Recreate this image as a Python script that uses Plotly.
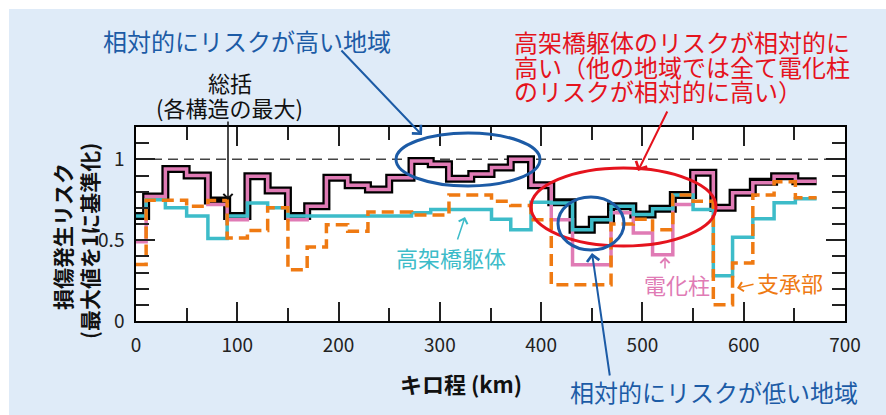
import plotly.graph_objects as go

# ---- data (km section edges and normalised risk per section) ----
edges_km = [0, 10, 29, 50, 71, 90, 110, 130, 150, 169, 188, 209, 229, 250, 272, 291, 309,
            331, 351, 370, 390, 410, 431, 450, 469, 491, 510, 530, 550, 570, 589, 609, 630, 651, 672]
viaduct = [0.65, 0.75, 0.70, 0.65, 0.51, 0.65, 0.73, 0.70, 0.65, 0.65,
           0.65, 0.65, 0.65, 0.65, 0.67, 0.69, 0.69, 0.69, 0.63, 0.565,
           0.735, 0.73, 0.565, 0.627, 0.71, 0.658, 0.694, 0.78, 0.69, 0.28,
           0.518, 0.632, 0.731, 0.756]
pole = [0.49, 0.77, 0.94, 0.90, 0.72, 0.627, 0.896, 0.807, 0.627, 0.71,
        0.886, 0.84, 0.814, 0.886, 0.99, 0.969, 0.88, 0.91, 0.95, 1.0,
        0.84, 0.627, 0.348, 0.348, 0.669, 0.545, 0.41, 0.72, 0.917, 0.70,
        0.793, 0.855, 0.896, 0.865]
bearing = [0.35, 0.747, 0.747, 0.71, 0.745, 0.514, 0.56, 0.70, 0.317, 0.458,
           0.596, 0.555, 0.675, 0.675, 0.655, 0.655, 0.78, 0.78, 0.74, 0.714,
           0.627, 0.224, 0.224, 0.224, 0.60, 0.63, 0.565, 0.78, 0.74, 0.10,
           0.358, 0.78, 0.861, 0.762]
overall = [0.65, 0.77, 0.94, 0.90, 0.745, 0.65, 0.896, 0.807, 0.65, 0.71,
           0.886, 0.84, 0.814, 0.886, 0.99, 0.969, 0.88, 0.91, 0.95, 1.0,
           0.84, 0.735, 0.565, 0.627, 0.71, 0.658, 0.694, 0.78, 0.917, 0.70,
           0.793, 0.861, 0.896, 0.865]
x_ticks = [0, 100, 200, 300, 400, 500, 600, 700]
y_ticks = [0, 0.5, 1]

TEAL = "#3dbcc9"
PINK = "#e07bb5"
ORANGE = "#ef7a12"
BLUE = "#1c5ba6"
RED = "#e5131d"
FONT = "Noto Sans CJK JP"

W, H = 886, 415
L, R, T, B = 136, 41, 127, 94
X0, X1 = 0, 700
Y0, Y1 = 0, 1.2

def px2x(px):
    return X0 + (px - L) / (W - L - R) * (X1 - X0)

def py2y(py):
    return Y0 + ((H - B) - py) / (H - T - B) * (Y1 - Y0)

def step(vals):
    return list(vals) + [vals[-1]]

fig = go.Figure()
fig.add_trace(go.Scatter(x=[X0, X1], y=[1, 1], mode="lines",
                         line=dict(color="#444", width=1.5, dash="10px,6px"),
                         hoverinfo="skip", showlegend=False))
fig.add_trace(go.Scatter(x=edges_km, y=step(overall), mode="lines", line_shape="hv",
                         line=dict(color="black", width=8), showlegend=False, name="総括"))
fig.add_trace(go.Scatter(x=edges_km, y=step(pole), mode="lines", line_shape="hv",
                         line=dict(color=PINK, width=3.5), showlegend=False, name="電化柱"))
fig.add_trace(go.Scatter(x=edges_km, y=step(viaduct), mode="lines", line_shape="hv",
                         line=dict(color=TEAL, width=3.5), showlegend=False, name="高架橋躯体"))
fig.add_trace(go.Scatter(x=edges_km, y=step(bearing), mode="lines", line_shape="hv",
                         line=dict(color=ORANGE, width=3.5, dash="12px,6px"),
                         showlegend=False, name="支承部"))

shapes = [
    dict(type="rect", xref="paper", yref="paper", layer="above",
         x0=(0 - L) / (W - L - R), x1=(W - L) / (W - L - R),
         y0=((H - B) - 9) / (H - T - B), y1=((H - B) - 0) / (H - T - B),
         fillcolor="white", line=dict(width=0)),
    dict(type="rect", xref="paper", yref="paper", layer="above",
         x0=(0 - L) / (W - L - R), x1=(9 - L) / (W - L - R),
         y0=((H - B) - H) / (H - T - B), y1=((H - B) - 0) / (H - T - B),
         fillcolor="white", line=dict(width=0)),
    dict(type="circle", xref="x", yref="y", x0=px2x(396), x1=px2x(540),
         y0=py2y(186), y1=py2y(133), line=dict(color=BLUE, width=3)),
    dict(type="circle", xref="x", yref="y", x0=px2x(531), x1=px2x(716),
         y0=py2y(246), y1=py2y(168), line=dict(color=RED, width=3)),
    dict(type="circle", xref="x", yref="y", x0=px2x(558), x1=px2x(624),
         y0=py2y(250), y1=py2y(197), line=dict(color=BLUE, width=3)),
]

def text(px, py, s, color, size=22, xanchor="center", bold=False):
    return dict(x=(px - L) / (W - L - R), y=((H - B) - py) / (H - T - B),
                xref="paper", yref="paper", text=(f"<b>{s}</b>" if bold else s),
                showarrow=False, xanchor=xanchor, yanchor="middle", borderpad=0,
                font=dict(family=FONT, size=size, color=color))

def arrow(tip, tail, color, width=2, head=4, size=1.2):
    return dict(x=(tip[0] - L) / (W - L - R), y=((H - B) - tip[1]) / (H - T - B),
                xref="paper", yref="paper", text="", showarrow=True,
                ax=tail[0] - tip[0], ay=tail[1] - tip[1], axref="pixel", ayref="pixel",
                arrowhead=head, arrowsize=size, arrowwidth=width, arrowcolor=color,
                standoff=0, startstandoff=0)

annotations = [
    text(102, 40, "相対的にリスクが高い地域", BLUE, 24, "left"),
    arrow((422, 135), (340, 49), BLUE),
    text(513, 41, "高架橋躯体のリスクが相対的に", RED, 24, "left"),
    text(513, 66, "高い（他の地域では全て電化柱", RED, 24, "left"),
    text(513, 90, "のリスクが相対的に高い）", RED, 24, "left"),
    arrow((638, 171), (668, 110), RED),
    text(230, 82, "総括", "#111", 22),
    text(229, 107, "(各構造の最大)", "#111", 22),
    arrow((228, 200), (228, 120), "#111", width=1.5),
    text(451, 257, "高架橋躯体", TEAL, 22),
    arrow((465, 217), (457, 241), TEAL, width=1.5),
    text(677, 284, "電化柱", PINK, 22),
    arrow((665, 257), (665, 270), PINK, width=1.5),
    text(790, 282, "支承部", ORANGE, 22),
    arrow((737, 288), (755, 284), ORANGE, width=1.5),
    text(714, 391, "相対的にリスクが低い地域", BLUE, 24),
    arrow((592, 253), (610, 377), BLUE),
    text(461, 383, "キロ程 (km)", "#111", 22, bold=True),
    dict(x=(45 - L) / (W - L - R), y=((H - B) - 237) / (H - T - B), xref="paper", yref="paper",
         text="<b>損傷発生リスク</b>", textangle=-90, showarrow=False,
         font=dict(family=FONT, size=21, color="#111")),
    dict(x=(72 - L) / (W - L - R), y=((H - B) - 241) / (H - T - B), xref="paper", yref="paper",
         text="<b>(最大値を1に基準化)</b>", textangle=-90, showarrow=False,
         font=dict(family=FONT, size=21, color="#111")),
]

axis_common = dict(showline=True, linecolor="black", linewidth=1.5, mirror="allticks",
                   ticks="inside", ticklen=19, tickwidth=1.5, tickcolor="#222",
                   showgrid=False, zeroline=False,
                   tickfont=dict(family=FONT, size=19, color="#222"))

fig.update_layout(
    width=W, height=H, margin=dict(l=L, r=R, t=T, b=B),
    paper_bgcolor="#dfebf8", plot_bgcolor="white",
    showlegend=False,
    shapes=shapes, annotations=annotations,
    xaxis=dict(range=[X0, X1], tickvals=x_ticks, ticktext=[str(v) for v in x_ticks],
               minor=dict(dtick=50, ticklen=13, ticks="inside", tickwidth=1.5, tickcolor="#222"),
               ticklabelstandoff=6, **axis_common),
    yaxis=dict(range=[Y0, Y1], tickvals=y_ticks, ticktext=["0", "0.5", "1"],
               minor=dict(dtick=0.1, ticklen=13, ticks="inside", tickwidth=1.5, tickcolor="#222"),
               ticklabelstandoff=6, **axis_common),
)

fig.write_html("out.html")
